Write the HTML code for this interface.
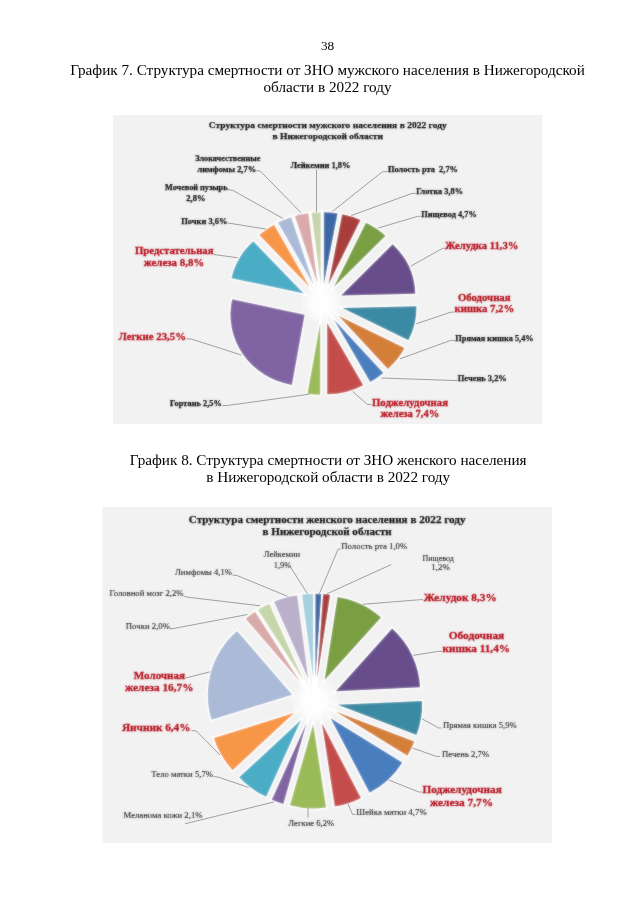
<!DOCTYPE html>
<html lang="ru"><head><meta charset="utf-8"><title>График 7, График 8</title>
<style>
html,body{margin:0;padding:0;background:#fff;}
body{width:640px;height:905px;position:relative;overflow:hidden;font-family:"Liberation Serif","Times New Roman",serif;color:#000;}
.pg{position:absolute;left:0;width:640px;text-align:center;white-space:nowrap;}
.num{top:39.1px;font-size:13.3px;line-height:14px;left:7.6px;}
.cap{font-size:15.2px;line-height:16.9px;}
svg{position:absolute;left:0;top:0;}
svg text{font-family:"Liberation Serif","Times New Roman",serif;white-space:pre;}
.t1{font-size:9.1px;font-weight:bold;fill:#111;stroke:#111;stroke-width:0.25;}
.b{font-size:8.0px;font-weight:bold;fill:#111;stroke:#111;stroke-width:0.25;}
.r1{font-size:10.2px;font-weight:bold;fill:#b6121d;stroke:#b6121d;stroke-width:0.3;}
.t2{font-size:11.0px;font-weight:bold;fill:#111;stroke:#111;stroke-width:0.25;}
.n{font-size:8.6px;fill:#1c1c1c;stroke:#1c1c1c;stroke-width:0.1;}
.r2{font-size:11.25px;font-weight:bold;fill:#b6121d;stroke:#b6121d;stroke-width:0.3;}
.ld polyline{fill:none;stroke:#8a8a8a;stroke-width:0.8;}
.pie path{stroke:#fff;stroke-width:3.2;paint-order:stroke;stroke-linejoin:miter;stroke-miterlimit:60;}
</style></head><body>
<div class="pg num">38</div>
<div class="pg cap" style="top:61.7px;left:7.5px">График 7. Структура смертности от ЗНО мужского населения в Нижегородской<br>области в 2022 году</div>
<div class="pg cap" style="top:451.7px;left:8.2px">График 8. Структура смертности от ЗНО женского населения<br>в Нижегородской области в 2022 году</div>
<svg width="640" height="905" viewBox="0 0 640 905">
<rect x="113" y="115" width="429.3" height="309" fill="#f2f2f2"/>
<rect x="102.5" y="507" width="449.3" height="336" fill="#f2f2f2"/>
<defs>
<radialGradient id="glow"><stop offset="0" stop-color="#fff" stop-opacity="1"/><stop offset="0.45" stop-color="#fff" stop-opacity="0.9"/><stop offset="1" stop-color="#fff" stop-opacity="0"/></radialGradient>
<filter id="soft" x="-5%" y="-5%" width="110%" height="110%"><feGaussianBlur stdDeviation="0.8" result="b"/><feComposite in="SourceGraphic" in2="b" operator="arithmetic" k1="0" k2="0.55" k3="0.45" k4="0"/></filter>
<filter id="softt" x="-5%" y="-20%" width="110%" height="140%"><feGaussianBlur stdDeviation="0.8" result="b"/><feComposite in="SourceGraphic" in2="b" operator="arithmetic" k1="0" k2="0.6" k3="0.4" k4="0"/></filter>
</defs>
<ellipse cx="321.95" cy="303.48" rx="22" ry="21" fill="url(#glow)"/>
<circle cx="314.64" cy="701.15" r="25" fill="url(#glow)"/>
<g class="pie" filter="url(#soft)">
<path d="M323.89 283.48L323.89 212.21A74.15 71.27 0 0 1 337.57 213.44Z" fill="#3A67A5"/>
<path d="M328.45 284.39L342.13 214.35A74.15 71.27 0 0 1 360.49 220.12Z" fill="#A83C3A"/>
<path d="M333.89 287.00L365.93 222.73A74.15 71.27 0 0 1 385.51 235.83Z" fill="#7A9E42"/>
<path d="M341.09 295.43L392.71 244.26A74.15 71.27 0 0 1 415.22 293.71Z" fill="#684E8C"/>
<path d="M342.33 307.93L416.45 306.22A74.15 71.27 0 0 1 408.41 340.26Z" fill="#3A8AA3"/>
<path d="M338.50 315.74L404.58 348.07A74.15 71.27 0 0 1 387.88 368.91Z" fill="#D37F39"/>
<path d="M334.07 319.84L383.44 373.01A74.15 71.27 0 0 1 370.18 382.09Z" fill="#4A7EBE"/>
<path d="M327.21 322.92L363.32 385.16A74.15 71.27 0 0 1 327.21 394.19Z" fill="#C44E4C"/>
<path d="M320.16 323.49L320.16 394.76A74.15 71.27 0 0 1 307.48 393.71Z" fill="#9BBB59"/>
<path d="M304.60 314.67L291.92 384.89A74.15 71.27 0 0 1 232.18 299.36Z" fill="#8064A2"/>
<path d="M303.81 293.52L231.39 278.21A74.15 71.27 0 0 1 253.30 241.34Z" fill="#4BACC6"/>
<path d="M309.71 287.20L259.21 235.02A74.15 71.27 0 0 1 274.05 224.72Z" fill="#F79646"/>
<path d="M313.71 285.03L278.04 222.54A74.15 71.27 0 0 1 291.13 217.14Z" fill="#AABAD7"/>
<path d="M317.46 283.87L294.89 215.98A74.15 71.27 0 0 1 308.31 213.14Z" fill="#D9AAA9"/>
<path d="M320.66 283.43L311.51 212.71A74.15 71.27 0 0 1 320.66 212.16Z" fill="#C6D6AC"/>
</g>
<g class="pie" filter="url(#soft)">
<path d="M315.45 677.84L315.45 593.72A84.38 84.12 0 0 1 321.33 593.92Z" fill="#3A67A5"/>
<path d="M317.24 677.97L323.12 594.05A84.38 84.12 0 0 1 330.12 594.83Z" fill="#A83C3A"/>
<path d="M324.66 680.07L337.54 596.93A84.38 84.12 0 0 1 381.01 617.46Z" fill="#7A9E42"/>
<path d="M335.79 691.17L392.15 628.56A84.38 84.12 0 0 1 420.08 687.36Z" fill="#684E8C"/>
<path d="M337.74 704.87L422.03 701.06A84.38 84.12 0 0 1 416.54 734.95Z" fill="#3A8AA3"/>
<path d="M335.61 711.50L414.41 741.58A84.38 84.12 0 0 1 407.38 755.74Z" fill="#D37F39"/>
<path d="M330.57 718.24L402.34 762.48A84.38 84.12 0 0 1 369.58 792.83Z" fill="#4A7EBE"/>
<path d="M321.93 723.31L360.95 797.90A84.38 84.12 0 0 1 334.81 806.45Z" fill="#C44E4C"/>
<path d="M313.17 724.43L326.05 807.56A84.38 84.12 0 0 1 289.97 805.31Z" fill="#9BBB59"/>
<path d="M306.58 723.05L283.37 803.92A84.38 84.12 0 0 1 271.79 799.69Z" fill="#8064A2"/>
<path d="M300.98 720.09L266.19 796.73A84.38 84.12 0 0 1 239.17 777.36Z" fill="#4BACC6"/>
<path d="M294.40 712.86L232.60 770.13A84.38 84.12 0 0 1 213.87 737.96Z" fill="#F79646"/>
<path d="M292.14 694.73L211.61 719.84A84.38 84.12 0 0 1 237.11 630.97Z" fill="#AABAD7"/>
<path d="M300.65 682.45L245.62 618.69A84.38 84.12 0 0 1 255.03 611.69Z" fill="#D9AAA9"/>
<path d="M303.53 680.62L257.91 609.85A84.38 84.12 0 0 1 269.28 603.74Z" fill="#C6D6AC"/>
<path d="M308.28 678.70L274.03 601.82A84.38 84.12 0 0 1 297.15 595.32Z" fill="#BAB0C9"/>
<path d="M313.09 677.87L301.96 594.49A84.38 84.12 0 0 1 313.09 593.75Z" fill="#A5D0DE"/>
</g>
<g class="ld">
<polyline points="256.3,170.7 260.3,171.0 301.0,212.8"/>
<polyline points="316.5,169.8 316.5,212.0"/>
<polyline points="387.3,171.7 382.5,171.7 332.5,211.4"/>
<polyline points="415.6,193.4 412.0,193.4 351.3,215.5"/>
<polyline points="420.4,216.3 417.5,216.4 378.3,228.0"/>
<polyline points="444.5,248.2 442.5,248.4 410.5,266.3"/>
<polyline points="453.8,312.0 450.0,312.4 416.3,323.8"/>
<polyline points="455.0,340.8 451.3,340.2 400.0,358.8"/>
<polyline points="457.0,380.5 451.0,380.4 381.3,378.0"/>
<polyline points="371.5,404.5 367.5,404.5 352.5,391.3"/>
<polyline points="222.5,405.5 227.5,405.5 309.4,394.2"/>
<polyline points="186.5,338.8 191.3,339.0 241.3,355.0"/>
<polyline points="213.5,254.5 217.5,255.0 237.8,257.8"/>
<polyline points="227.8,223.2 231.3,223.5 265.9,229.1"/>
<polyline points="227.5,189.7 232.7,190.3 282.8,218.4"/>
<polyline points="290.8,567.5 307.5,593.8"/>
<polyline points="340.5,549.0 338.0,549.4 319.3,593.8"/>
<polyline points="391.3,564.5 327.0,593.8"/>
<polyline points="423.0,599.7 421.3,599.6 362.8,604.3"/>
<polyline points="442.0,651.4 438.8,651.3 413.4,655.3"/>
<polyline points="441.3,728.0 438.8,728.0 422.0,718.8"/>
<polyline points="440.0,756.4 436.3,756.4 412.5,748.0"/>
<polyline points="422.0,792.0 418.8,792.0 388.8,780.0"/>
<polyline points="355.5,814.5 352.5,814.3 347.8,803.5"/>
<polyline points="308.0,807.5 308.0,817.5"/>
<polyline points="185.0,823.8 273.8,802.0"/>
<polyline points="213.5,776.5 218.0,777.0 248.8,787.5"/>
<polyline points="191.3,730.5 196.3,731.0 220.0,755.0"/>
<polyline points="185.0,678.0 187.5,677.5 210.0,671.8"/>
<polyline points="170.0,628.5 172.5,628.7 247.5,614.5"/>
<polyline points="183.5,596.0 186.3,597.0 260.0,605.8"/>
<polyline points="232.5,575.0 237.0,575.5 287.5,596.3"/>
</g>
<g xml:space="preserve" filter="url(#softt)">
<text class="t1" x="208.75" y="128.00" textLength="238.00" lengthAdjust="spacingAndGlyphs">Структура смертности мужского населения в 2022 году</text>
<text class="t1" x="272.50" y="138.50" textLength="110.50" lengthAdjust="spacingAndGlyphs">в Нижегородской области</text>
<text class="b" x="195.20" y="161.25" textLength="65.30" lengthAdjust="spacingAndGlyphs">Злокачественные</text>
<text class="b" x="197.50" y="171.50" textLength="58.60" lengthAdjust="spacingAndGlyphs">лимфомы 2,7%</text>
<text class="b" x="290.75" y="167.50" textLength="59.75" lengthAdjust="spacingAndGlyphs">Лейкемии 1,8%</text>
<text class="b" x="388.00" y="172.10" textLength="70.00" lengthAdjust="spacingAndGlyphs">Полость рта  2,7%</text>
<text class="b" x="416.25" y="193.75" textLength="46.75" lengthAdjust="spacingAndGlyphs">Глотка 3,8%</text>
<text class="b" x="421.25" y="216.75" textLength="55.50" lengthAdjust="spacingAndGlyphs">Пищевод 4,7%</text>
<text class="r1" x="445.00" y="249.25" textLength="73.50" lengthAdjust="spacingAndGlyphs">Желудка 11,3%</text>
<text class="r1" x="458.00" y="300.50" textLength="52.50" lengthAdjust="spacingAndGlyphs">Ободочная</text>
<text class="r1" x="454.50" y="311.75" textLength="59.75" lengthAdjust="spacingAndGlyphs">кишка 7,2%</text>
<text class="b" x="455.30" y="341.40" textLength="78.40" lengthAdjust="spacingAndGlyphs">Прямая кишка 5,4%</text>
<text class="b" x="457.80" y="380.50" textLength="49.00" lengthAdjust="spacingAndGlyphs">Печень 3,2%</text>
<text class="r1" x="372.00" y="406.00" textLength="76.00" lengthAdjust="spacingAndGlyphs">Поджелудочная</text>
<text class="r1" x="380.50" y="416.75" textLength="58.75" lengthAdjust="spacingAndGlyphs">железа 7,4%</text>
<text class="b" x="170.00" y="405.70" textLength="51.75" lengthAdjust="spacingAndGlyphs">Гортань 2,5%</text>
<text class="r1" x="118.70" y="339.90" textLength="67.30" lengthAdjust="spacingAndGlyphs">Легкие 23,5%</text>
<text class="r1" x="135.00" y="254.25" textLength="78.50" lengthAdjust="spacingAndGlyphs">Предстательная</text>
<text class="r1" x="143.75" y="266.25" textLength="60.50" lengthAdjust="spacingAndGlyphs">железа 8,8%</text>
<text class="b" x="181.25" y="223.75" textLength="46.25" lengthAdjust="spacingAndGlyphs">Почки 3,6%</text>
<text class="b" x="165.00" y="190.00" textLength="62.50" lengthAdjust="spacingAndGlyphs">Мочевой пузырь</text>
<text class="b" x="186.25" y="200.50" textLength="19.25" lengthAdjust="spacingAndGlyphs">2,8%</text>
<text class="t2" x="188.75" y="522.50" textLength="276.75" lengthAdjust="spacingAndGlyphs">Структура смертности женского населения в 2022 году</text>
<text class="t2" x="262.50" y="535.00" textLength="129.25" lengthAdjust="spacingAndGlyphs">в Нижегородской области</text>
<text class="n" x="263.75" y="556.75" textLength="36.25" lengthAdjust="spacingAndGlyphs">Лейкемии</text>
<text class="n" x="273.75" y="567.50" textLength="17.50" lengthAdjust="spacingAndGlyphs">1,9%</text>
<text class="n" x="341.25" y="549.25" textLength="66.00" lengthAdjust="spacingAndGlyphs">Полость рта 1,0%</text>
<text class="n" x="422.50" y="560.50" textLength="31.25" lengthAdjust="spacingAndGlyphs">Пищевод</text>
<text class="n" x="431.25" y="570.00" textLength="18.75" lengthAdjust="spacingAndGlyphs">1,2%</text>
<text class="r2" x="423.75" y="600.50" textLength="73.00" lengthAdjust="spacingAndGlyphs">Желудок 8,3%</text>
<text class="r2" x="448.75" y="638.75" textLength="55.50" lengthAdjust="spacingAndGlyphs">Ободочная</text>
<text class="r2" x="442.50" y="651.75" textLength="67.50" lengthAdjust="spacingAndGlyphs">кишка 11,4%</text>
<text class="n" x="443.00" y="728.00" textLength="73.75" lengthAdjust="spacingAndGlyphs">Прямая кишка 5,9%</text>
<text class="n" x="442.00" y="756.75" textLength="47.25" lengthAdjust="spacingAndGlyphs">Печень 2,7%</text>
<text class="r2" x="422.50" y="792.50" textLength="79.25" lengthAdjust="spacingAndGlyphs">Поджелудочная</text>
<text class="r2" x="430.00" y="805.50" textLength="63.00" lengthAdjust="spacingAndGlyphs">железа 7,7%</text>
<text class="n" x="356.25" y="814.75" textLength="70.50" lengthAdjust="spacingAndGlyphs">Шейка матки 4,7%</text>
<text class="n" x="288.25" y="825.50" textLength="46.00" lengthAdjust="spacingAndGlyphs">Легкие 6,2%</text>
<text class="n" x="123.50" y="817.50" textLength="79.00" lengthAdjust="spacingAndGlyphs">Меланома кожи 2,1%</text>
<text class="n" x="151.25" y="776.75" textLength="61.75" lengthAdjust="spacingAndGlyphs">Тело матки 5,7%</text>
<text class="r2" x="122.00" y="731.00" textLength="68.50" lengthAdjust="spacingAndGlyphs">Яичник 6,4%</text>
<text class="r2" x="133.75" y="678.50" textLength="51.25" lengthAdjust="spacingAndGlyphs">Молочная</text>
<text class="r2" x="125.00" y="691.00" textLength="68.50" lengthAdjust="spacingAndGlyphs">железа 16,7%</text>
<text class="n" x="125.75" y="628.75" textLength="44.25" lengthAdjust="spacingAndGlyphs">Почки 2,0%</text>
<text class="n" x="109.50" y="596.25" textLength="74.00" lengthAdjust="spacingAndGlyphs">Головной мозг 2,2%</text>
<text class="n" x="175.00" y="575.00" textLength="57.00" lengthAdjust="spacingAndGlyphs">Лимфомы 4,1%</text>
</g>
</svg>
</body></html>
